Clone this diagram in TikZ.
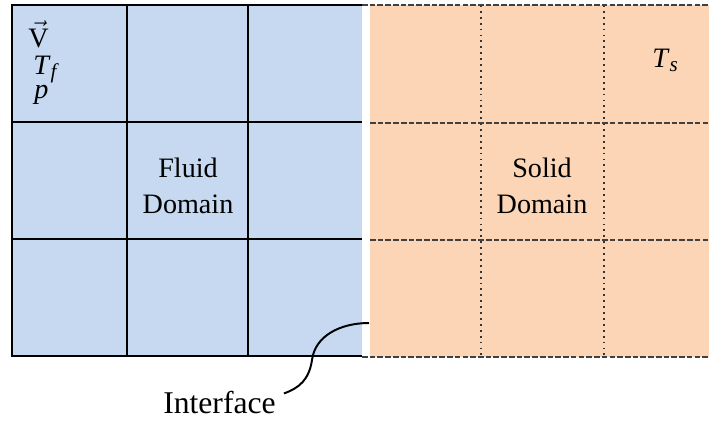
\documentclass[tikz,border=0pt]{standalone}
\usepackage{fontspec}
\setmainfont{Liberation Serif}
\usepackage{tikz}
\usetikzlibrary{arrows,calc}
\tikzset{>=latex}
\definecolor{fluidblue}{RGB}{198,217,241}
\definecolor{solidpeach}{RGB}{251,213,181}
\newcommand{\subvar}[1]{{\fontsize{15}{15}\selectfont\raisebox{-0.2em}{\textit{#1}}}}
\tikzset{
  gridline/.style={black, line width=1.4pt},
  dashline/.style={black!75, line width=1.1pt, dash pattern=on 4pt off 1.5pt},
  dotline/.style={black!80, line width=1.3pt, dash pattern=on 1.3pt off 2.9pt},
  label/.style={inner sep=0pt, font=\fontsize{20}{25.5}\selectfont, align=center}
}

\begin{document}
\begin{tikzpicture}[x=0.025cm, y=-0.025cm]
      \useasboundingbox (0,0) rectangle (709,423);
      % fluid domain
      \fill [fluidblue] (12,5) rectangle (362,356);
      \foreach \x in {127,248} \draw [gridline] (\x,5) -- (\x,356);
      \foreach \y in {122,239} \draw [gridline] (12,\y) -- (362,\y);
      \draw [gridline, line width=1.8pt] (362,5) -- (12,5) -- (12,356) -- (362,356);
      % solid domain
      \fill [solidpeach] (370,5) rectangle (709,357);
      \foreach \x in {481,604} \draw [dotline] (\x,5) -- (\x,357);
      \foreach \y in {123,240} \draw [dashline] (370,\y) -- (709,\y);
      \draw [dashline] (362,5) -- (709,5);
      \draw [dashline] (362,357) -- (709,357);
      % variables
      \node (vel) at (28,47) [label, anchor=base west]{$\vec{\mathrm{V}}$};
      \node (tf) at (33,74) [label, anchor=base west]{\textit{T}\subvar{f}};
      \node (pr) at (34,98) [label, anchor=base west]{\textit{p}};
      \node (ts) at (652,67) [label, anchor=base west]{\textit{T}\subvar{s}};
      % domain labels
      \node (fluid) at (188,186) [label]{Fluid\\Domain};
      \node (solid) at (542,186) [label]{Solid\\Domain};
      % interface
      \coordinate (ifc) at (369,323);
      \node (lbl) at (163,413) [label, anchor=base west, font=\fontsize{22.5}{27}\selectfont]{Interface};
      \draw [line width=1.4pt] (ifc) .. controls (340,323) and (315,336) .. (312,360)
        .. controls (309,380) and (299,388) .. ([shift={(8,3)}]lbl.north east);
\end{tikzpicture}
\end{document}
